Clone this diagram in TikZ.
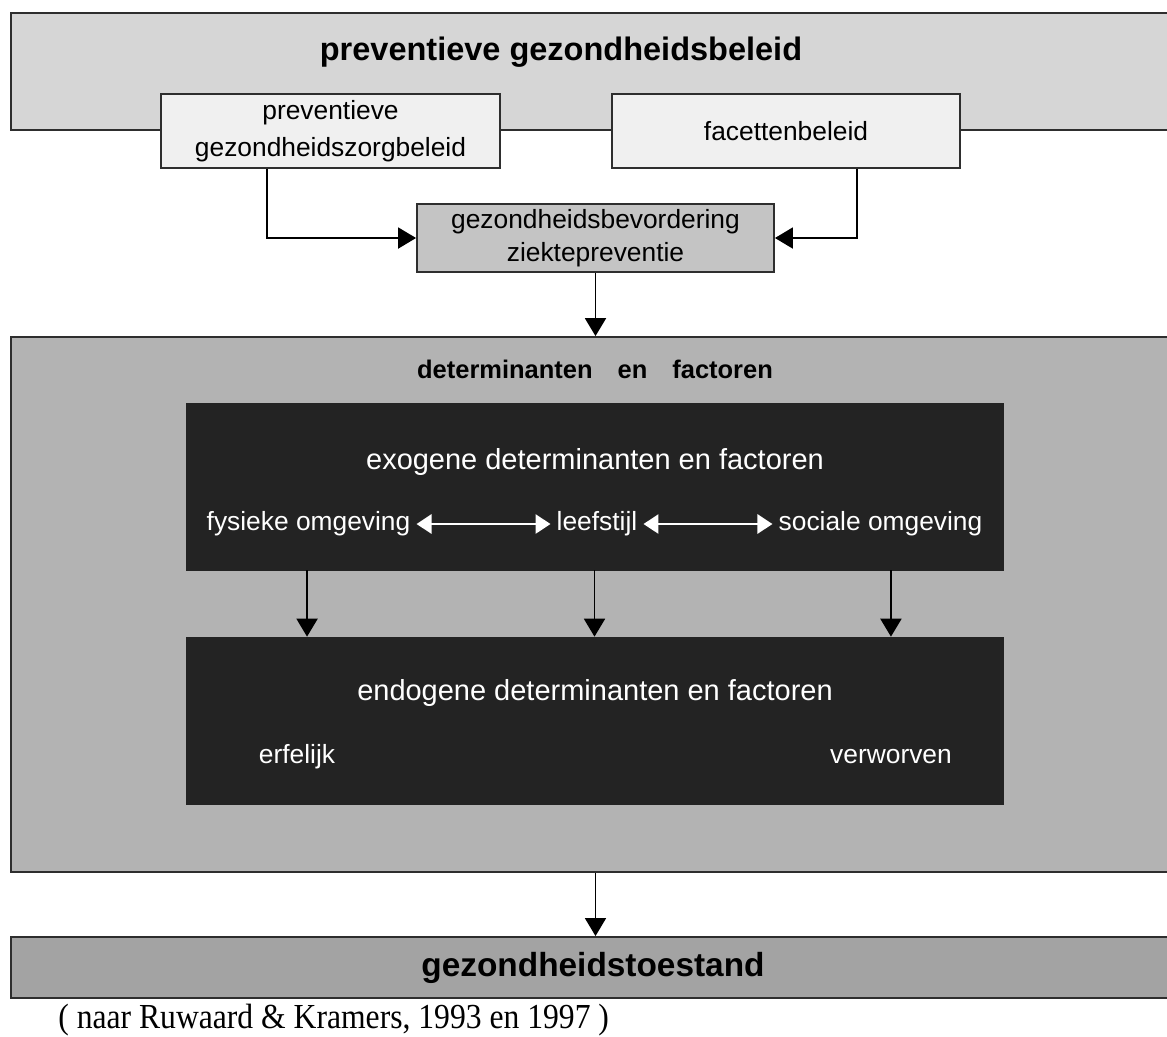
\documentclass[tikz,border=0pt]{standalone}
\usepackage{fontspec}
\setmainfont{Liberation Sans}
\newfontfamily\bronfont{Liberation Serif}[FakeStretch=0.9]
\usepackage{tikz}
\usetikzlibrary{arrows.meta}
\definecolor{rand}{HTML}{2E2E2E}
\definecolor{beleidgrijs}{HTML}{D6D6D6}
\definecolor{vakwit}{HTML}{F0F0F0}
\definecolor{middengrijs}{HTML}{C4C4C4}
\definecolor{determgrijs}{HTML}{B3B3B3}
\definecolor{donkergrijs}{HTML}{232323}
\definecolor{toestandgrijs}{HTML}{A3A3A3}

\begin{document}
\begin{tikzpicture}[x=0.02cm,y=-0.02cm,
	blok/.style={rectangle, draw=rand, line width=1.1pt, inner sep=0pt, align=center},
	donker/.style={rectangle, fill=donkergrijs, draw=donkergrijs, inner sep=0pt, minimum width=16.34cm, minimum height=3.34cm},
	klein/.style={font=\fontsize{15}{21}\selectfont, align=center},
	wit/.style={text=white, font=\fontsize{15}{18}\selectfont},
	pijl/.style={-{Triangle[length=0.36cm,width=0.42cm]}, line width=1.1pt},
	witpijl/.style={{Triangle[length=0.3cm,width=0.38cm]}-{Triangle[length=0.3cm,width=0.38cm]}, draw=white, line width=1.6pt}]
	
	\useasboundingbox (0,0) rectangle (1167,1036);
	
	% beleid
	\node[blok, fill=beleidgrijs, minimum width=23.28cm, minimum height=2.34cm] (beleid) at (593,71.5) {};
	\node[font=\fontsize{18.5}{22}\selectfont\bfseries] (beleidtitel) at (561,52) {preventieve gezondheidsbeleid};
	\node[blok, klein, fill=vakwit, minimum width=6.78cm, minimum height=1.48cm] (zorgbeleid) at (330.5,131) {preventieve\\gezondheidszorgbeleid};
	\node[blok, klein, fill=vakwit, minimum width=6.96cm, minimum height=1.48cm] (facetten) at (786,131) {facettenbeleid};
	\node[blok, fill=middengrijs, minimum width=7.14cm, minimum height=1.36cm, font=\fontsize{15}{18.7}\selectfont] (bevordering) at (595.5,238) {gezondheidsbevordering\\ziektepreventie};
	
	\draw[pijl] ([xshift=-1.27cm]zorgbeleid.south) |- (bevordering.west);
	\draw[pijl] ([xshift=1.42cm]facetten.south) |- (bevordering.east);
	
	% determinanten
	\node[blok, fill=determgrijs, minimum width=23.28cm, minimum height=10.7cm] (determinanten) at (593,604.5) {};
	\node[font=\fontsize{14.5}{17}\selectfont\bfseries] (determtitel) at (595,369) {determinanten\hspace{0.5cm}en\hspace{0.5cm}factoren};
	\draw[pijl] (bevordering.south) -- (bevordering.south |- determinanten.north);
	
	\node[donker] (exogeen) at (594.5,486.5) {};
	\node[text=white, font=\fontsize{16.5}{20}\selectfont] (exotitel) at (595,462) {exogene determinanten en factoren};
	\node[wit] (fysiek) at (308.5,524) {fysieke omgeving};
	\node[wit] (leefstijl) at (597,524) {leefstijl};
	\node[wit] (sociaal) at (880.5,524) {sociale omgeving};
	\draw[witpijl] (fysiek) -- (leefstijl);
	\draw[witpijl] (leefstijl) -- (sociaal);
	
	\node[donker] (endogeen) at (594.5,720.5) {};
	\node[text=white, font=\fontsize{16.5}{20}\selectfont] (endotitel) at (595,693) {endogene determinanten en factoren};
	\node[wit] (erfelijk) at (297,757) {erfelijk};
	\node[wit] (verworven) at (891,757) {verworven};
	
	\foreach \dx in {-5.75,0,5.93}
		\draw[pijl] ([xshift=\dx cm]exogeen.south) -- ([xshift=\dx cm]endogeen.north);
	
	% toestand
	\node[blok, fill=toestandgrijs, minimum width=23.28cm, minimum height=1.22cm, font=\fontsize{19}{22}\selectfont\bfseries] (toestand) at (593,967.5) {gezondheidstoestand};
	\draw[pijl] (bevordering.south |- determinanten.south) -- (bevordering.south |- toestand.north);
	
	\node[anchor=base west, inner sep=0pt, font=\bronfont\fontsize{20}{22}\selectfont] (bron) at (58,1028) {( naar Ruwaard \& Kramers, 1993 en 1997 )};
	
\end{tikzpicture}
\end{document}
